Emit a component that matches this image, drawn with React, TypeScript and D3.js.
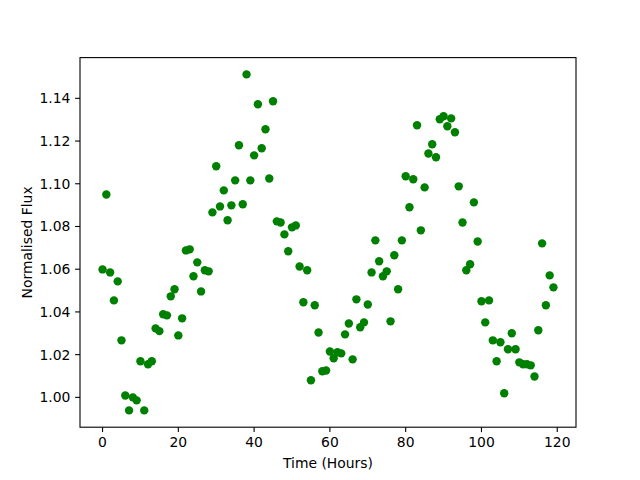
import React from 'react';
import * as d3 from 'd3';

// hours since start of observation
const hours: number[] = d3.range(0, 120);

// normalised flux
const flux: number[] = [
  1.0599, 1.095, 1.0585, 1.0454, 1.0543, 1.0267, 1.0009, 0.9939, 1.0, 0.9986,
  1.0169, 0.9939, 1.0155, 1.0169, 1.0323, 1.031, 1.0389, 1.0384, 1.0473, 1.0506,
  1.029, 1.037, 1.0688, 1.0693, 1.0567, 1.0632, 1.0496, 1.0595, 1.059, 1.0866,
  1.1082, 1.0894, 1.0969, 1.0829, 1.0899, 1.1016, 1.118, 1.0904, 1.1512, 1.1016,
  1.1133, 1.1372, 1.1166, 1.1255, 1.1025, 1.1386, 1.0824, 1.0819, 1.0763, 1.0684,
  1.0796, 1.0805, 1.0613, 1.0445, 1.0595, 1.008, 1.0431, 1.0304, 1.0122, 1.0126,
  1.0215, 1.0183, 1.0211, 1.0206, 1.0295, 1.0346, 1.0178, 1.0459, 1.0328, 1.0351,
  1.0435, 1.0585, 1.0735, 1.0637, 1.0567, 1.059, 1.0356, 1.0665, 1.0506, 1.0735,
  1.1035, 1.089, 1.1021, 1.1274, 1.0782, 1.0983, 1.1142, 1.1185, 1.1124, 1.1302,
  1.1316, 1.1269, 1.1306, 1.1241, 1.0988, 1.0819, 1.0595, 1.0623, 1.0913, 1.073,
  1.045, 1.0351, 1.0454, 1.0267, 1.0169, 1.0258, 1.0019, 1.0225, 1.03, 1.0225,
  1.0164, 1.0155, 1.0155, 1.015, 1.0098, 1.0314, 1.0721, 1.0431, 1.0571, 1.0515,
];

const xTicks = [0, 20, 40, 60, 80, 100, 120];
const yTicks = [1.0, 1.02, 1.04, 1.06, 1.08, 1.1, 1.12, 1.14];

const width = 640;
const height = 480;
const margin = { left: 80, right: 64, top: 57.6, bottom: 52.8 };
const font = "'DejaVu Sans', sans-serif";

const App: React.FC = () => {
  // matplotlib style 5% margins around the data
  const xMin = d3.min(hours)!, xMax = d3.max(hours)!;
  const yMin = d3.min(flux)!, yMax = d3.max(flux)!;
  const xPad = (xMax - xMin) * 0.05;
  const yPad = (yMax - yMin) * 0.05;

  const x = d3.scaleLinear()
    .domain([xMin - xPad, xMax + xPad])
    .range([margin.left, width - margin.right]);
  const y = d3.scaleLinear()
    .domain([yMin - yPad, yMax + yPad])
    .range([height - margin.bottom, margin.top]);

  const x0 = margin.left, x1 = width - margin.right;
  const y0 = height - margin.bottom, y1 = margin.top;

  return (
    <svg width={width} height={height}
      style={{ position: 'absolute', left: 0, top: 0, background: '#fff' }}
      fontFamily={font}>
      <rect x={0} y={0} width={width} height={height} fill="#fff" />

      {/* points */}
      {hours.map((h, i) => (
        <circle key={i} cx={x(h)} cy={y(flux[i])} r={4.2} fill="#008000" />
      ))}

      {/* frame */}
      <rect x={x0} y={y1} width={x1 - x0} height={y0 - y1}
        fill="none" stroke="#000" strokeWidth={1.1} />

      {/* x ticks */}
      {xTicks.map(t => (
        <g key={t} transform={`translate(${x(t)},${y0})`}>
          <line y2={4.9} stroke="#000" strokeWidth={1.1} />
          <text y={20} textAnchor="middle" fontSize={13.9} fill="#000">{t}</text>
        </g>
      ))}

      {/* y ticks */}
      {yTicks.map(t => (
        <g key={t} transform={`translate(${x0},${y(t)})`}>
          <line x2={-4.9} stroke="#000" strokeWidth={1.1} />
          <text x={-9.7} dy="0.35em" textAnchor="end" fontSize={13.9} fill="#000">
            {d3.format('.2f')(t)}
          </text>
        </g>
      ))}

      <text x={(x0 + x1) / 2} y={468} textAnchor="middle" fontSize={13.9} fill="#000">
        Time (Hours)
      </text>
      <text transform={`translate(32,${(y0 + y1) / 2}) rotate(-90)`}
        textAnchor="middle" fontSize={13.9} fill="#000">
        Normalised Flux
      </text>
    </svg>
  );
};

export default App;
